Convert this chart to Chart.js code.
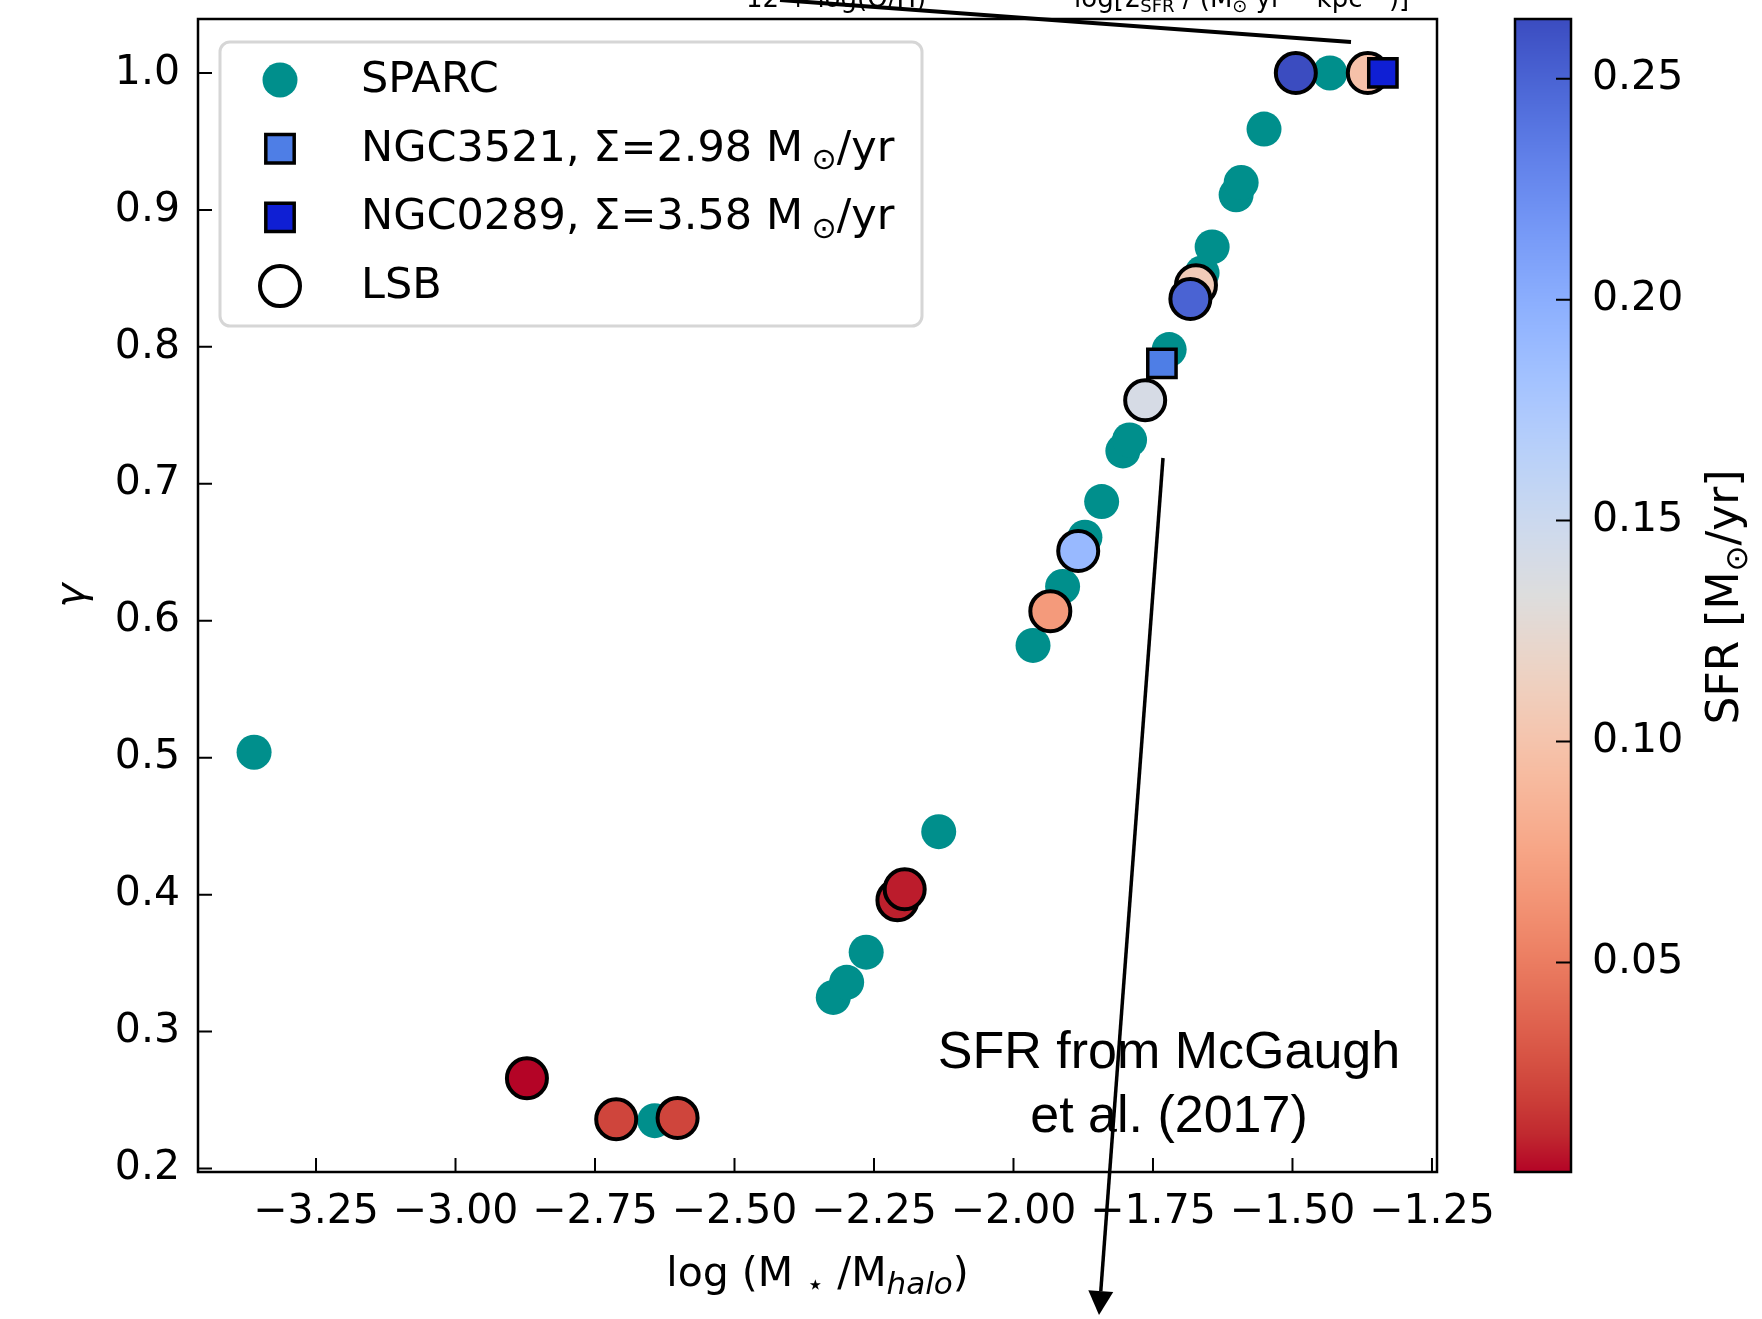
<!DOCTYPE html>
<html>
<head>
<meta charset="utf-8">
<script src="https://cdn.jsdelivr.net/npm/chart.js@4.4.1/dist/chart.umd.min.js"></script>
<style>
  html, body { margin: 0; padding: 0; background: #fff; }
  canvas { display: block; }
</style>
</head>
<body>
<canvas id="gammaChart" width="1762" height="1319"></canvas>
<script>
// SPARC rotation-curve sample
const sparcX = [-3.361, -2.643, -2.323, -2.299, -2.264, -2.134, -1.965, -1.912, -1.872, -1.842,
                -1.804, -1.792, -1.721, -1.662, -1.644, -1.601, -1.592, -1.551, -1.433];
const sparcY = [0.504, 0.235, 0.325, 0.336, 0.358, 0.446, 0.582, 0.625, 0.661, 0.687,
                0.724, 0.732, 0.798, 0.854, 0.873, 0.911, 0.920, 0.959, 1.000];

// LSB galaxies, coloured by star formation rate [Msun/yr]
const lsbX   = [-2.872, -2.712, -2.602, -2.208, -2.195, -1.934, -1.884, -1.764, -1.673, -1.683, -1.494, -1.365];
const lsbY   = [0.266, 0.236, 0.237, 0.396, 0.404, 0.607, 0.651, 0.761, 0.845, 0.835, 1.000, 1.000];
const lsbSfr = [0.0026, 0.022, 0.022, 0.009, 0.008, 0.068, 0.190, 0.140, 0.108, 0.250, 0.2635, 0.098];

// the two spirals
const ngc3521 = { x: -1.734, y: 0.788 };
const ngc0289 = { x: -1.338, y: 1.000 };

const xTicks = [-3.25, -3.00, -2.75, -2.50, -2.25, -2.00, -1.75, -1.50, -1.25];
const yTicks = [0.2, 0.3, 0.4, 0.5, 0.6, 0.7, 0.8, 0.9, 1.0];
const sfrTicks = [0.05, 0.10, 0.15, 0.20, 0.25];

const xLimits = [-3.4615, -1.241];
const yLimits = [0.1975, 1.0394];
const sfrMin = Math.min(...lsbSfr);
const sfrMax = Math.max(...lsbSfr);

const teal = '#008f8c';
const FONT = '"DejaVu Sans"';
const FS = 41;
const LEGEND_FS = 43;

// matplotlib coolwarm, 33 control points
const coolwarm = [
  [59,76,192],[68,90,204],[77,104,215],[87,117,225],[98,130,234],[108,142,241],[119,154,247],
  [130,165,251],[141,176,254],[152,185,255],[163,194,255],[174,201,253],[184,208,249],
  [194,213,244],[204,217,238],[213,219,230],[221,221,221],[229,216,209],[236,211,197],
  [241,204,185],[245,196,173],[247,187,160],[247,177,148],[247,166,135],[244,154,123],
  [241,141,111],[236,127,99],[229,112,88],[222,96,77],[213,80,66],[203,62,56],[192,40,47],[180,4,38]
];
function coolwarmAt(t) {
  t = Math.max(0, Math.min(1, t));
  const f = t * (coolwarm.length - 1);
  const i = Math.min(Math.floor(f), coolwarm.length - 2);
  const w = f - i;
  const c = coolwarm[i].map((v, k) => Math.round(v + (coolwarm[i + 1][k] - v) * w));
  return 'rgb(' + c.join(',') + ')';
}
// reversed map: low SFR red, high SFR blue
function sfrColour(v) {
  return coolwarmAt(1 - (v - sfrMin) / (sfrMax - sfrMin));
}

function fmt(digits) {
  return v => (v < 0 ? '\u2212' : '') + Math.abs(v).toFixed(digits);
}

// text with sub/superscripts
function fontFor(p, size) {
  return (p.italic ? 'italic ' : '') + Math.round(size * (p.s || 1)) + 'px ' + (p.family || FONT);
}
function richWidth(ctx, parts, size) {
  let w = 0;
  parts.forEach(p => { ctx.font = fontFor(p, size); w += ctx.measureText(p.t).width; });
  return w;
}
function drawRich(ctx, parts, x, y, size, align) {
  let cx = align === 'center' ? x - richWidth(ctx, parts, size) / 2 : x;
  ctx.textAlign = 'left';
  ctx.textBaseline = 'alphabetic';
  parts.forEach(p => {
    ctx.font = fontFor(p, size);
    ctx.fillText(p.t, cx, y + (p.dy || 0) * size);
    cx += ctx.measureText(p.t).width;
  });
}
const sub = t => ({ t: t, s: 0.7, dy: 0.2 });
const sup = t => ({ t: t, s: 0.7, dy: -0.4 });

const legendRows = [
  { marker: 'circle', fill: teal, r: 17.5, bw: 0, parts: [{ t: 'SPARC' }] },
  { marker: 'rect', fill: '#4e7ee6', r: 14.2, bw: 3.5,
    parts: [{ t: 'NGC3521, \u03A3=2.98 M\u2009' }, sub('\u2299'), { t: '/yr' }] },
  { marker: 'rect', fill: '#0f1fd4', r: 14.2, bw: 3.5,
    parts: [{ t: 'NGC0289, \u03A3=3.58 M\u2009' }, sub('\u2299'), { t: '/yr' }] },
  { marker: 'circle', fill: '#ffffff', r: 20, bw: 4, parts: [{ t: 'LSB' }] }
];

function drawMarker(ctx, row, x, y) {
  ctx.beginPath();
  if (row.marker === 'rect') ctx.rect(x - row.r, y - row.r, 2 * row.r, 2 * row.r);
  else ctx.arc(x, y, row.r, 0, Math.PI * 2);
  ctx.fillStyle = row.fill;
  ctx.fill();
  if (row.bw) { ctx.lineWidth = row.bw; ctx.strokeStyle = '#000'; ctx.stroke(); }
}

function arrowLine(ctx, x0, y0, x1, y1, width, head) {
  const ang = Math.atan2(y1 - y0, x1 - x0);
  const bx = x1 - Math.cos(ang) * (head ? head.len : 0);
  const by = y1 - Math.sin(ang) * (head ? head.len : 0);
  ctx.beginPath();
  ctx.moveTo(x0, y0);
  ctx.lineTo(bx, by);
  ctx.lineWidth = width;
  ctx.strokeStyle = '#000';
  ctx.stroke();
  if (head) {
    ctx.beginPath();
    ctx.moveTo(x1, y1);
    ctx.lineTo(bx + Math.sin(ang) * head.half, by - Math.cos(ang) * head.half);
    ctx.lineTo(bx - Math.sin(ang) * head.half, by + Math.cos(ang) * head.half);
    ctx.closePath();
    ctx.fillStyle = '#000';
    ctx.fill();
  }
}

// keep axis label overhang from shrinking the plot area
function fixBox(size, prop) {
  return s => {
    s[prop] = size;
    s.paddingTop = s.paddingBottom = s.paddingLeft = s.paddingRight = 0;
  };
}

const decorations = {
  id: 'decorations',
  beforeDraw(chart) {
    const ctx = chart.ctx;
    ctx.save();
    ctx.fillStyle = '#fff';
    ctx.fillRect(0, 0, chart.width, chart.height);
    ctx.restore();
  },
  afterDraw(chart) {
    const ctx = chart.ctx;
    const a = chart.chartArea;
    const xs = chart.scales.x, ys = chart.scales.y, cb = chart.scales.cb;
    ctx.save();

    // frame and inward ticks
    ctx.strokeStyle = '#000';
    ctx.lineWidth = 2.5;
    ctx.strokeRect(a.left, a.top, a.right - a.left, a.bottom - a.top);
    ctx.lineWidth = 2;
    ctx.beginPath();
    xs.ticks.forEach(t => {
      const px = xs.getPixelForValue(t.value);
      ctx.moveTo(px, a.bottom); ctx.lineTo(px, a.bottom - 14);
    });
    ys.ticks.forEach(t => {
      const py = ys.getPixelForValue(t.value);
      ctx.moveTo(a.left, py); ctx.lineTo(a.left + 14, py);
    });
    ctx.stroke();

    // legend
    const lx = 220, ly = 42, lw = 702, lh = 284;
    ctx.beginPath();
    ctx.roundRect(lx, ly, lw, lh, 10);
    ctx.fillStyle = 'rgba(255,255,255,0.8)';
    ctx.fill();
    ctx.lineWidth = 3;
    ctx.strokeStyle = '#d6d6d6';
    ctx.stroke();
    legendRows.forEach((row, i) => {
      const my = 80 + i * 68.7;
      drawMarker(ctx, row, lx + 60, my);
      ctx.fillStyle = '#000';
      drawRich(ctx, row.parts, lx + 141, my + 12, LEGEND_FS, 'left');
    });

    // colour bar
    const bl = a.right + 78, bw = 56;
    for (let py = Math.floor(cb.top); py < cb.bottom; py++) {
      ctx.fillStyle = sfrColour(cb.getValueForPixel(py + 0.5));
      ctx.fillRect(bl, py, bw, 1);
    }
    ctx.lineWidth = 2.5;
    ctx.strokeStyle = '#000';
    ctx.strokeRect(bl, cb.top, bw, cb.bottom - cb.top);
    ctx.lineWidth = 2;
    ctx.beginPath();
    cb.ticks.forEach(t => {
      const py = cb.getPixelForValue(t.value);
      ctx.moveTo(bl + bw, py); ctx.lineTo(bl + bw - 15, py);
    });
    ctx.stroke();

    // axis titles
    ctx.fillStyle = '#000';
    drawRich(ctx, [{ t: 'log (M ' }, sub('\u22C6'), { t: ' /M' }, { t: 'halo', s: 0.75, dy: 0.2, italic: true }, { t: ')' }],
      (a.left + a.right) / 2, 1286, FS, 'center');

    ctx.save();
    ctx.translate(84, (a.top + a.bottom) / 2);
    ctx.rotate(-Math.PI / 2);
    drawRich(ctx, [{ t: '\u03B3', italic: true }], 0, 0, FS, 'center');
    ctx.restore();

    ctx.save();
    ctx.translate(1738, 597);
    ctx.rotate(-Math.PI / 2);
    drawRich(ctx, [{ t: 'SFR [M' }, sub('\u2299'), { t: '/yr]' }], 0, 0, 44, 'center');
    ctx.restore();

    // labels of the neighbouring panel, cut by the top edge
    drawRich(ctx, [{ t: '12 + log(O/H)' }], 746, 7, 26, 'left');
    drawRich(ctx, [{ t: 'log[\u03A3' }, sub('SFR'), { t: ' / (M' }, sub('\u2299'), { t: ' yr' }, sup('\u22121'),
      { t: ' kpc' }, sup('\u22122'), { t: ')]' }], 1074, 7, 26, 'left');
    arrowLine(ctx, 780, 0, 1351, 42, 4, null);

    // source note
    const note = [{ t: 'SFR from McGaugh', family: '"Liberation Sans"' }];
    const note2 = [{ t: 'et al. (2017)', family: '"Liberation Sans"' }];
    drawRich(ctx, note, 1169, 1068, 52, 'center');
    drawRich(ctx, note2, 1169, 1132, 52, 'center');
    arrowLine(ctx, 1163, 458, 1099, 1315, 3.5, { len: 24, half: 12.5 });

    ctx.restore();
  }
};

const tickFont = { family: 'DejaVu Sans', size: FS };

new Chart(document.getElementById('gammaChart'), {
  type: 'scatter',
  data: {
    datasets: [
      {
        label: 'NGC3521',
        data: [ngc3521],
        order: 0,
        pointStyle: 'rect',
        pointRadius: 20,
        pointBackgroundColor: '#4e7ee6',
        pointBorderColor: '#000',
        pointBorderWidth: 3.5
      },
      {
        label: 'NGC0289',
        data: [ngc0289],
        order: 0,
        pointStyle: 'rect',
        pointRadius: 20,
        pointBackgroundColor: '#0f1fd4',
        pointBorderColor: '#000',
        pointBorderWidth: 3.5
      },
      {
        label: 'LSB',
        data: lsbX.map((x, i) => ({ x: x, y: lsbY[i] })),
        order: 1,
        pointRadius: 20,
        pointBackgroundColor: lsbSfr.map(sfrColour),
        pointBorderColor: '#000',
        pointBorderWidth: 4
      },
      {
        label: 'SPARC',
        data: sparcX.map((x, i) => ({ x: x, y: sparcY[i] })),
        order: 2,
        pointRadius: 17.5,
        pointBackgroundColor: teal,
        pointBorderWidth: 0
      }
    ]
  },
  options: {
    responsive: false,
    animation: false,
    events: [],
    devicePixelRatio: 1,
    layout: { autoPadding: false, padding: { top: 19, left: 0, right: 0, bottom: 0 } },
    plugins: {
      legend: { display: false },
      tooltip: { enabled: false }
    },
    scales: {
      x: {
        type: 'linear',
        position: 'bottom',
        min: xLimits[0],
        max: xLimits[1],
        grid: { display: false, drawTicks: false },
        border: { display: false },
        afterBuildTicks: s => { s.ticks = xTicks.map(v => ({ value: v })); },
        afterFit: fixBox(147, 'height'),
        ticks: { font: tickFont, color: '#000', padding: 16, maxRotation: 0, autoSkip: false, callback: fmt(2) }
      },
      y: {
        type: 'linear',
        position: 'left',
        min: yLimits[0],
        max: yLimits[1],
        grid: { display: false, drawTicks: false },
        border: { display: false },
        afterBuildTicks: s => { s.ticks = yTicks.map(v => ({ value: v })); },
        afterFit: fixBox(198, 'width'),
        ticks: { font: tickFont, color: '#000', padding: 18, autoSkip: false, callback: fmt(1) }
      },
      cb: {
        type: 'linear',
        position: 'right',
        min: sfrMin,
        max: sfrMax,
        grid: { display: false, drawTicks: false },
        border: { display: false },
        afterBuildTicks: s => { s.ticks = sfrTicks.map(v => ({ value: v })); },
        afterFit: fixBox(325, 'width'),
        ticks: { font: tickFont, color: '#000', padding: 155, autoSkip: false, callback: fmt(2) }
      }
    }
  },
  plugins: [decorations]
});
</script>
</body>
</html>
